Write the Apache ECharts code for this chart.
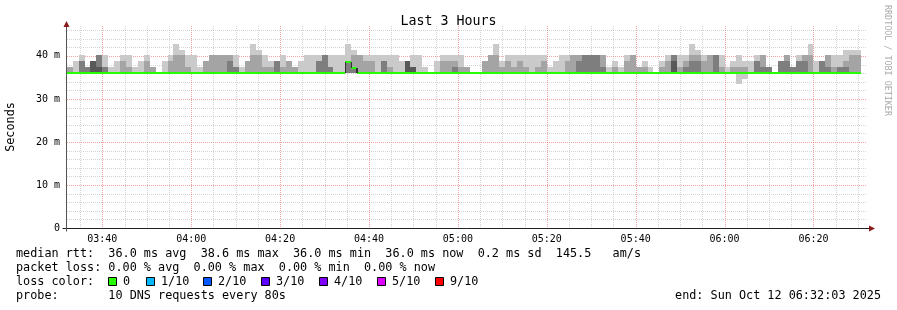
<!DOCTYPE html>
<html><head><meta charset="utf-8">
<script src="https://cdn.jsdelivr.net/npm/echarts@6/dist/echarts.min.js"></script>
<style>html,body{margin:0;padding:0;background:#fff}#c{width:897px;height:310px}</style>
</head><body><div id="c"></div><script>
// time axis in seconds of the day
const WINDOW_START = 12723;   // 03:32:03
const WINDOW_END = 23523;     // 06:32:03
const STEP_START = 12720;     // first 80 s step 03:32:00
const STEP_SEC = 80;
const BASE_MS = 36.0;         // pings 2..6 (at the median)
const Y_MAX = 46.95;

// sorted ping values per step (ms)
const p1 = [
36.0,36.0,36.0,36.0,36.0,36.0,36.0,36.0,36.0,36.0,
36.0,36.0,36.0,36.0,36.0,36.0,36.0,36.0,36.0,36.0,
36.0,36.0,36.0,36.0,36.0,36.0,36.0,36.0,36.0,36.0,
36.0,36.0,36.0,36.0,36.0,36.0,36.0,36.0,36.0,36.0,
36.0,36.0,36.0,36.0,36.0,36.0,36.0,36.0,36.0,36.0,
36.0,36.0,36.0,36.0,36.0,36.0,36.0,36.0,36.0,36.0,
36.0,36.0,36.0,36.0,36.0,36.0,36.0,36.0,36.0,36.0,
36.0,36.0,36.0,36.0,36.0,36.0,36.0,36.0,36.0,36.0,
36.0,36.0,36.0,36.0,36.0,36.0,36.0,36.0,36.0,36.0,
36.0,36.0,36.0,36.0,36.0,36.0,36.0,36.0,36.0,36.0,
36.0,36.0,36.0,36.0,36.0,36.0,36.0,36.0,36.0,36.0,
36.0,36.0,36.0,33.4,34.7,36.0,36.0,36.0,36.0,36.0,
36.0,36.0,36.0,36.0,36.0,36.0,36.0,36.0,36.0,36.0,
36.0,36.0,36.0,36.0];
const p7 = [
36.0,36.0,36.0,36.0,38.8,37.4,36.0,36.0,36.0,36.0,
36.0,36.0,36.0,36.0,36.0,36.0,36.0,36.0,36.0,36.0,
36.0,36.0,36.0,36.0,36.0,36.0,36.0,36.0,36.0,36.0,
36.0,36.0,36.0,36.0,36.0,36.0,36.0,36.0,36.0,36.0,
36.0,36.0,36.0,36.0,36.0,36.0,36.0,36.0,36.0,36.0,
36.0,36.0,36.0,36.0,36.0,36.0,36.0,38.8,37.4,36.0,
36.0,36.0,36.0,36.0,36.0,36.0,36.0,36.0,36.0,36.0,
36.0,36.0,36.0,36.0,36.0,36.0,36.0,36.0,36.0,36.0,
36.0,36.0,36.0,36.0,36.0,36.0,36.0,36.0,36.0,36.0,
36.0,36.0,36.0,36.0,36.0,36.0,36.0,36.0,36.0,36.0,
36.0,36.0,38.8,36.0,36.0,36.0,36.0,36.0,36.0,36.0,
36.0,36.0,36.0,36.0,36.0,36.0,36.0,36.0,36.0,36.0,
36.0,36.0,36.0,36.0,36.0,36.0,36.0,36.0,36.0,36.0,
36.0,36.0,36.0,36.0];
const p8 = [
36.0,36.0,38.8,37.4,38.8,40.1,37.4,36.0,36.0,36.0,
36.0,36.0,36.0,36.0,36.0,36.0,36.0,36.0,36.0,36.0,
36.0,36.0,36.0,36.0,36.0,36.0,36.0,38.8,37.4,36.0,
36.0,36.0,36.0,36.0,36.0,38.8,36.0,36.0,36.0,36.0,
36.0,36.0,38.8,40.1,37.4,36.0,36.0,38.8,37.4,36.0,
36.0,36.0,36.0,38.8,36.0,36.0,36.0,38.8,37.4,36.0,
36.0,36.0,36.0,36.0,36.0,37.4,36.0,36.0,36.0,36.0,
36.0,36.0,36.0,36.0,36.0,36.0,36.0,36.0,36.0,36.0,
36.0,36.0,36.0,36.0,36.0,36.0,38.8,40.1,40.1,40.1,
37.4,36.0,36.0,36.0,36.0,36.0,36.0,36.0,36.0,36.0,
36.0,36.0,40.1,36.0,37.4,38.8,38.8,36.0,36.0,40.1,
36.0,36.0,36.0,36.0,36.0,36.0,38.8,37.4,37.4,36.0,
38.8,38.8,37.4,38.8,38.8,36.0,36.0,38.8,37.4,36.0,
37.4,37.4,36.0,36.0];
const p9 = [
37.4,36.0,38.8,37.4,38.8,40.1,37.4,36.0,36.0,38.8,
37.4,36.0,36.0,38.8,37.4,36.0,36.0,38.8,40.1,40.1,
37.4,36.0,36.0,38.8,40.1,40.1,40.1,40.1,37.4,36.0,
38.8,40.1,40.1,37.4,37.4,38.8,37.4,38.8,37.4,36.0,
36.0,36.0,38.8,40.1,37.4,36.0,36.0,38.8,40.1,40.1,
38.8,38.8,36.0,38.8,37.4,36.0,36.0,38.8,37.4,36.0,
36.0,36.0,36.0,38.8,38.8,38.8,37.4,37.4,36.0,36.0,
38.8,40.1,40.1,37.4,38.8,37.4,38.8,37.4,36.0,37.4,
38.8,36.0,36.0,36.0,38.8,40.1,40.1,40.1,40.1,40.1,
40.1,36.0,37.4,36.0,38.8,40.1,37.4,37.4,36.0,36.0,
37.4,38.8,40.1,37.4,38.8,40.1,40.1,38.8,40.1,40.1,
37.4,36.0,37.4,37.4,37.4,36.0,38.8,40.1,37.4,36.0,
38.8,40.1,37.4,38.8,40.1,40.1,36.0,38.8,40.1,37.4,
37.4,38.8,40.1,40.1];
const p10 = [
37.4,38.8,40.1,37.4,38.8,40.1,40.1,37.4,38.8,40.1,
40.1,37.4,38.8,40.1,37.4,36.0,38.8,40.1,42.8,41.4,
40.1,40.1,37.4,38.8,40.1,40.1,40.1,40.1,40.1,37.4,
38.8,42.8,41.4,40.1,38.8,38.8,40.1,38.8,37.4,38.8,
40.1,40.1,40.1,40.1,40.1,40.1,40.1,42.8,41.4,40.1,
40.1,40.1,40.1,40.1,40.1,40.1,38.8,38.8,40.1,40.1,
37.4,36.0,38.8,40.1,40.1,40.1,40.1,37.4,36.0,36.0,
38.8,40.1,42.8,38.8,40.1,40.1,40.1,40.1,40.1,40.1,
40.1,37.4,38.8,40.1,40.1,40.1,40.1,40.1,40.1,40.1,
40.1,37.4,38.8,37.4,40.1,40.1,37.4,38.8,37.4,36.0,
38.8,40.1,40.1,40.1,40.1,42.8,41.4,40.1,40.1,40.1,
40.1,37.4,38.8,40.1,38.8,38.8,40.1,40.1,37.4,36.0,
38.8,40.1,37.4,40.1,40.1,42.8,38.8,38.8,40.1,40.1,
40.1,41.4,41.4,41.4];
const median = [
36.0,36.0,36.0,36.0,36.0,36.0,36.0,36.0,36.0,36.0,
36.0,36.0,36.0,36.0,36.0,36.0,36.0,36.0,36.0,36.0,
36.0,36.0,36.0,36.0,36.0,36.0,36.0,36.0,36.0,36.0,
36.0,36.0,36.0,36.0,36.0,36.0,36.0,36.0,36.0,36.0,
36.0,36.0,36.0,36.0,36.0,36.0,36.0,38.6,37.3,36.0,
36.0,36.0,36.0,36.0,36.0,36.0,36.0,36.0,36.0,36.0,
36.0,36.0,36.0,36.0,36.0,36.0,36.0,36.0,36.0,36.0,
36.0,36.0,36.0,36.0,36.0,36.0,36.0,36.0,36.0,36.0,
36.0,36.0,36.0,36.0,36.0,36.0,36.0,36.0,36.0,36.0,
36.0,36.0,36.0,36.0,36.0,36.0,36.0,36.0,36.0,36.0,
36.0,36.0,36.0,36.0,36.0,36.0,36.0,36.0,36.0,36.0,
36.0,36.0,36.0,36.0,36.0,36.0,36.0,36.0,36.0,36.0,
36.0,36.0,36.0,36.0,36.0,36.0,36.0,36.0,36.0,36.0,
36.0,36.0,36.0,36.0];

const xLabelTimes = [13200,14400,15600,16800,18000,19200,20400,21600,22800];
const yLabelValues = [0,10,20,30,40];
const xGridStep = 300, xMajorStep = 1200;
const yGridStep = 2, yMajorStep = 10;

const lossLabels = ['0','1/10','2/10','3/10','4/10','5/10','9/10'];
const lossColors = ['#26ff00','#00b8ff','#0059ff','#5e00ff','#7e00ff','#dd00ff','#ff0000'];
const legendBoxX = [108,146,203,261,319,377,435];

const smokeColors = ['#cacaca','#a4a4a4','#7e7e7e','#585858'];
const MINOR = 'rgba(160,160,160,0.45)';
const MAJOR = 'rgba(235,90,90,0.55)';
const MONO = '"DejaVu Sans Mono", monospace';

const fmt = s => String(Math.floor(s/3600)).padStart(2,'0') + ':' + String(Math.floor((s%3600)/60)).padStart(2,'0');

// grid lines
const gridData = [];
for (let v = yGridStep; v < Y_MAX; v += yGridStep) gridData.push([0, v, v % yMajorStep === 0 ? 1 : 0]);
for (let t = Math.ceil(WINDOW_START / xGridStep) * xGridStep; t < WINDOW_END; t += xGridStep) gridData.push([1, t, t % xMajorStep === 0 ? 1 : 0]);

const stepData = p10.map((v, i) => [STEP_START + i * STEP_SEC, v, i]);

const chart = echarts.init(document.getElementById('c'), null, {renderer: 'canvas'});

function renderGrid(params, api) {
  const cs = params.coordSys;
  const kind = api.value(0), v = api.value(1), major = api.value(2);
  let shape;
  if (kind === 0) {
    const y = Math.round(api.coord([WINDOW_START, v])[1]) + 0.5;
    shape = {x1: cs.x, y1: y, x2: cs.x + cs.width, y2: y};
  } else {
    const x = Math.round(api.coord([v, 0])[0]) + 0.5;
    shape = {x1: x, y1: cs.y, x2: x, y2: cs.y + cs.height};
  }
  return {type: 'line', shape, silent: true,
    style: {stroke: major ? MAJOR : MINOR, lineWidth: 1, lineDash: [1, 1]}};
}

function renderSmoke(params, api) {
  const i = api.value(2);
  const t0 = STEP_START + i * STEP_SEC, t1 = t0 + STEP_SEC;
  const xl = Math.round(api.coord([t0, 0])[0]);
  const xr = Math.round(api.coord([t1, 0])[0]);
  const y = v => Math.round(api.coord([t0, v])[1]);
  const bands = [[p1[i], p10[i]], [BASE_MS, p9[i]], [BASE_MS, p8[i]], [BASE_MS, p7[i]]];
  const children = [];
  bands.forEach((b, k) => {
    if (b[1] > b[0]) {
      const yt = y(b[1]), yb = y(b[0]);
      children.push({type: 'rect', shape: {x: xl, y: yt, width: xr - xl, height: yb - yt},
        style: {fill: smokeColors[k]}});
    }
  });
  return {type: 'group', children};
}

function renderMedian(params, api) {
  const i = api.value(2);
  const t0 = STEP_START + i * STEP_SEC, t1 = t0 + STEP_SEC;
  const xl = Math.round(api.coord([t0, 0])[0]);
  const xr = Math.round(api.coord([t1, 0])[0]);
  const ym = Math.round(api.coord([t0, median[i]])[1]);
  const children = [{type: 'line', shape: {x1: xl, y1: ym, x2: xr, y2: ym},
    style: {stroke: lossColors[0], lineWidth: 2}}];
  if (i > 0 && median[i] !== median[i - 1]) {
    const yp = Math.round(api.coord([t0, median[i - 1]])[1]);
    children.push({type: 'line', shape: {x1: xl + 0.5, y1: yp, x2: xl + 0.5, y2: ym},
      style: {stroke: '#333', lineWidth: 1}});
  }
  if (i < median.length - 1 && median[i] !== median[i + 1] && median[i + 1] === BASE_MS) {
    const yn = Math.round(api.coord([t0, median[i + 1]])[1]);
    children.push({type: 'line', shape: {x1: xr - 0.5, y1: ym, x2: xr - 0.5, y2: yn},
      style: {stroke: '#333', lineWidth: 1}});
  }
  return {type: 'group', children};
}

chart.setOption({
  backgroundColor: '#fff',
  animation: false,
  title: {text: 'Last 3 Hours', left: 'center', top: 10,
    textStyle: {fontFamily: MONO, fontSize: 13.3, fontWeight: 'normal', color: '#000'}},
  grid: {left: 67, top: 26, width: 800, height: 202, containLabel: false},
  xAxis: {type: 'value', min: WINDOW_START, max: WINDOW_END,
    axisLine: {show: false}, axisTick: {show: false}, splitLine: {show: false},
    axisLabel: {customValues: xLabelTimes, formatter: v => fmt(v), margin: 6,
      fontFamily: MONO, fontSize: 10, color: '#000'}},
  yAxis: {type: 'value', min: 0, max: Y_MAX,
    axisLine: {show: false}, axisTick: {show: false}, splitLine: {show: false},
    axisLabel: {customValues: yLabelValues, formatter: v => v === 0 ? '0' : v + ' m', margin: 7,
      fontFamily: MONO, fontSize: 10, color: '#000'}},
  series: [
    {type: 'custom', name: 'grid', data: gridData, renderItem: renderGrid, z: 1, silent: true, clip: true},
    {type: 'custom', name: 'smoke', data: stepData, renderItem: renderSmoke, z: 2, silent: true, clip: true},
    {type: 'custom', name: 'median', data: stepData, renderItem: renderMedian, z: 3, silent: true, clip: true}
  ]
});

// axes, arrows and legend text
const o = chart.convertToPixel({gridIndex: 0}, [WINDOW_START, 0]);
const xe = chart.convertToPixel({gridIndex: 0}, [WINDOW_END, 0]);
const yt = chart.convertToPixel({gridIndex: 0}, [WINDOW_START, Y_MAX]);
const ax = Math.round(o[0]) - 0.5, ay = Math.round(o[1]) + 0.5;
const ARROW = '#8b1a1a';
const font = '11.8px ' + MONO;
const txt = (text, x, y, extra) => ({type: 'text', silent: true,
  style: Object.assign({text, x, y, fill: '#000', font, verticalAlign: 'middle'}, extra || {})});
const g = [
  {type: 'line', silent: true, shape: {x1: ax - 4, y1: ay, x2: xe[0] + 3, y2: ay}, style: {stroke: '#222', lineWidth: 1}, z: 10},
  {type: 'line', silent: true, shape: {x1: ax, y1: ay + 3, x2: ax, y2: yt[1] - 4}, style: {stroke: '#555', lineWidth: 1}, z: 10},
  {type: 'polygon', silent: true, shape: {points: [[xe[0] + 2, ay - 3], [xe[0] + 8, ay], [xe[0] + 2, ay + 3]]}, style: {fill: ARROW}, z: 10},
  {type: 'polygon', silent: true, shape: {points: [[ax - 3, yt[1] + 1], [ax, yt[1] - 5], [ax + 3, yt[1] + 1]]}, style: {fill: ARROW}, z: 10},
  {type: 'text', silent: true, x: 11, y: 127, rotation: Math.PI / 2,
    style: {text: 'Seconds', x: 0, y: 0, fill: '#000', font, align: 'center', verticalAlign: 'middle'}},
  txt('median rtt:  36.0 ms avg  38.6 ms max  36.0 ms min  36.0 ms now  0.2 ms sd  145.5   am/s', 16, 254),
  txt('packet loss: 0.00 % avg  0.00 % max  0.00 % min  0.00 % now', 16, 268),
  txt('loss color:', 16, 282),
  txt('probe:       10 DNS requests every 80s', 16, 296),
  txt('end: Sun Oct 12 06:32:03 2025', 881, 296, {align: 'right'}),
  {type: 'text', silent: true, x: 887, y: 5, rotation: -Math.PI / 2,
    style: {text: 'RRDTOOL / TOBI OETIKER', x: 0, y: 0, fill: '#aaa', font: '8.4px ' + MONO, align: 'left', verticalAlign: 'middle'}}
];
lossLabels.forEach((lab, k) => {
  g.push({type: 'rect', silent: true, shape: {x: legendBoxX[k] + 0.5, y: 277.5, width: 8, height: 8},
    style: {fill: lossColors[k], stroke: '#000', lineWidth: 1}});
  g.push(txt(lab, legendBoxX[k] + 15, 282));
});
chart.setOption({graphic: g});
</script></body></html>
